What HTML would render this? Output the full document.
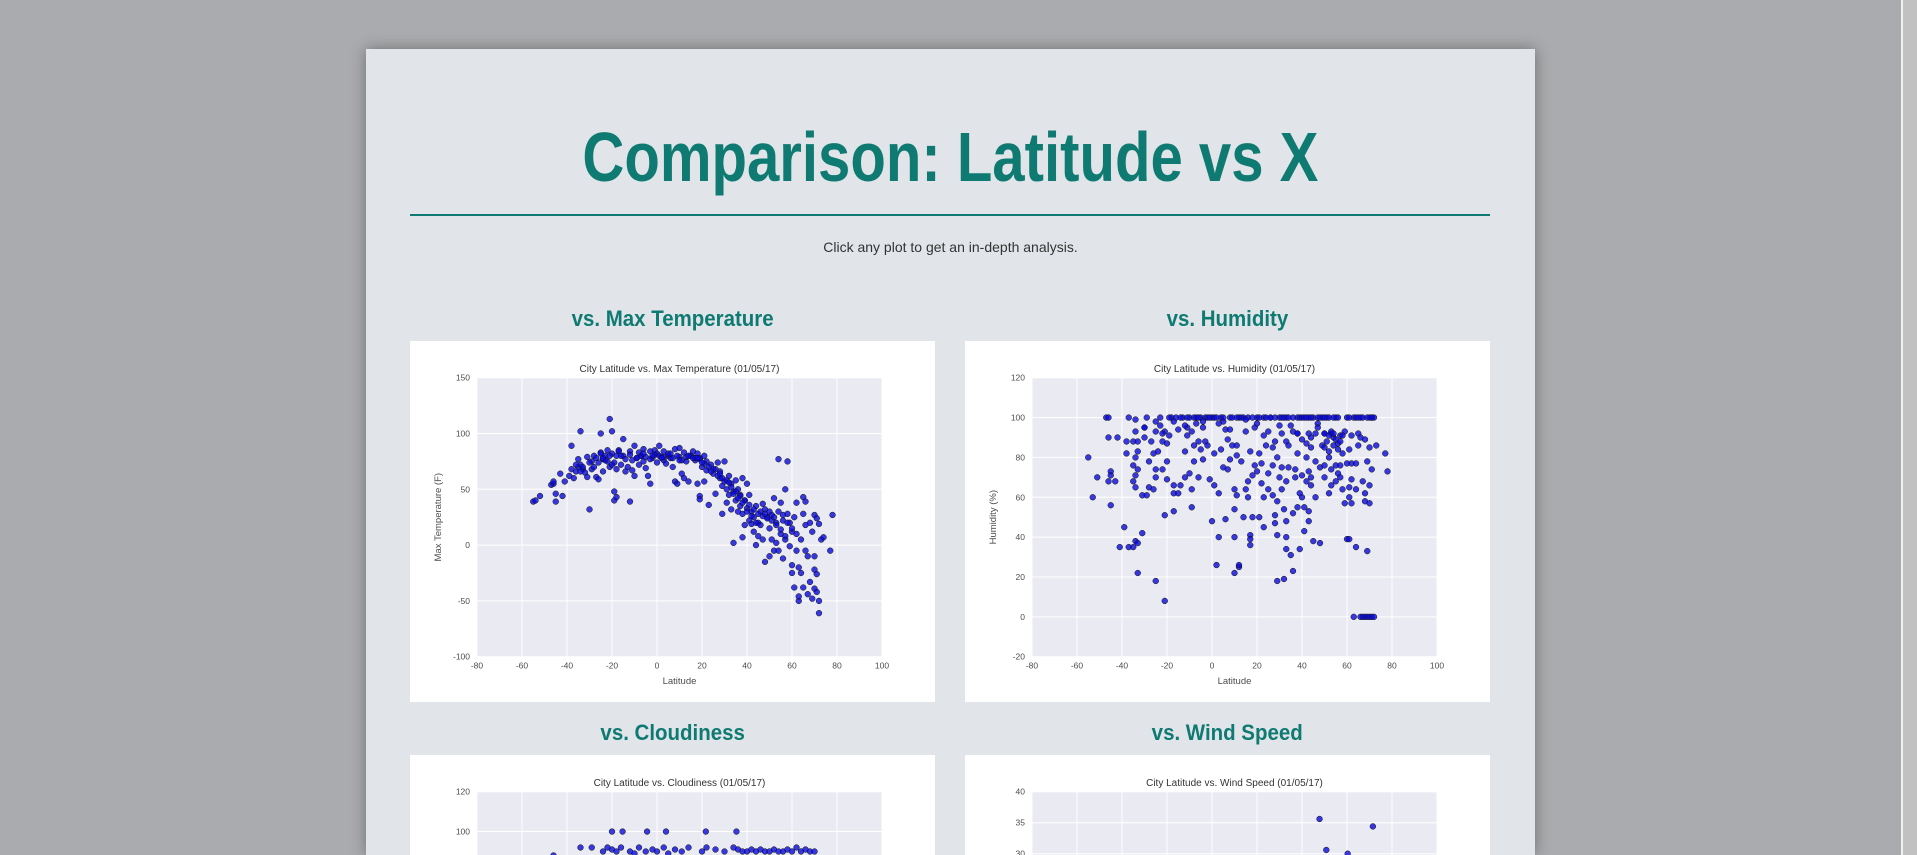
<!DOCTYPE html>
<html><head><meta charset="utf-8">
<style>
html,body{margin:0;padding:0;width:1917px;height:855px;overflow:hidden;}
body{background:#aaabae;position:relative;font-family:"Liberation Sans",sans-serif;}
#page{position:absolute;left:366px;top:49px;width:1169px;height:806px;background:#e1e4e9;box-shadow:0 0 14px rgba(0,0,0,0.35);overflow:hidden;}
.abs{position:absolute;}
#title{left:0;width:1169px;top:73px;text-align:center;font-size:70px;line-height:70px;font-weight:bold;color:#0e7a72;}
#title span{display:inline-block;transform:scaleX(0.83);}
#rule{left:44px;top:165px;width:1080px;height:2px;background:#0e7a72;}
#sub{left:0;width:1169px;top:191px;text-align:center;font-size:14px;line-height:14px;color:#333;}
.head{font-size:22px;line-height:22px;font-weight:bold;color:#0e7a72;text-align:center;width:525px;}
.head span{display:inline-block;transform:scaleX(0.93);}
.card{background:#fff;width:525px;height:361px;overflow:hidden;}
.card.short{height:100px;}
#scroll{position:absolute;left:1901px;top:0;width:16px;height:855px;background:#f1f1f1;}
#thumb{position:absolute;left:1903px;top:0;width:14px;height:855px;background:#c1c1c1;}
</style></head>
<body>
<div id="scroll"></div>
<div id="thumb"></div>
<div id="page">
  <div id="title" class="abs"><span>Comparison: Latitude vs X</span></div>
  <div id="rule" class="abs"></div>
  <div id="sub" class="abs">Click any plot to get an in-depth analysis.</div>
  <div class="abs head" style="left:44px;top:259px"><span>vs. Max Temperature</span></div>
  <div class="abs head" style="left:599px;top:259px"><span>vs. Humidity</span></div>
  <div class="abs head" style="left:44px;top:673px"><span>vs. Cloudiness</span></div>
  <div class="abs head" style="left:599px;top:673px"><span>vs. Wind Speed</span></div>
  <div class="abs card" style="left:44px;top:292px"><svg id="c1" width="525" height="361"></svg></div>
  <div class="abs card" style="left:599px;top:292px"><svg id="c2" width="525" height="361"></svg></div>
  <div class="abs card short" style="left:44px;top:706px"><svg id="c3" width="525" height="100"></svg></div>
  <div class="abs card short" style="left:599px;top:706px"><svg id="c4" width="525" height="100"></svg></div>
</div>
<script>
const xTicks=[-80,-60,-40,-20,0,20,40,60,80,100];
const tempTicks=[-100,-50,0,50,100,150];
const humTicks=[-20,0,20,40,60,80,100,120];
const cloudTicks=[-20,0,20,40,60,80,100,120];
const windTicks=[-5,0,5,10,15,20,25,30,35,40];

const tempLat=[-55,-54,-52,-47,-46,-46,-45,-45,-43,-42,-41,-39,-38,-38,-37,-36,-35,-35,-34,-34,-33,-32,-31,-31,-30,-29,-29,-28,-27,-26,-26,-25,-25,-24,-24,-23,-22,-22,-21,-21,-20,-20,-19,-19,-18,-18,-18,-17,-16,-15,-15,-14,-13,-12,-12,-11,-10,-10,-9,-8,-8,-7,-6,-6,-5,-4,-3,-3,-2,-1,0,0,1,2,3,3,4,5,6,7,8,8,9,10,10,11,12,12,13,14,15,16,17,18,18,19,19,19,20,21,21,22,22,23,24,25,26,26,27,28,28,29,29,30,30,31,31,32,32,33,33,34,34,35,35,36,36,37,37,38,38,38,39,39,40,40,41,41,42,42,43,43,44,44,45,45,46,47,47,48,48,49,50,50,50,51,51,52,52,53,53,54,54,54,55,55,56,56,57,57,58,58,59,59,60,60,60,61,61,62,62,62,63,63,63,64,64,65,65,65,66,66,66,67,67,68,68,69,69,70,70,70,70,71,71,71,72,72,72,73,74,77,78,
-36,-33,-30,-27,-25,-23,-21,-19,-17,-14,-12,-9,-7,-5,-3,-1,1,3,5,7,9,11,13,15,17,19,21,23,25,27,29,31,33,35,37,39,41,43,45,47,49,51,53,55,57,
-34,-28,-24,-20,-16,-11,-6,-2,2,6,10,14,16,18,20,24,28,32,34,36,38,40,42,44,46,48,52,56,58,60];
const tempVal=[39,40,44,54,55,57,46,39,64,44,57,62,68,89,60,66,77,70,102,72,68,65,79,61,32,75,68,80,61,74,59,100,83,77,66,80,75,85,113,70,102,82,48,40,43,80,68,85,72,95,80,66,70,39,84,67,89,62,78,83,72,80,86,75,69,62,84,55,78,85,82,74,89,79,76,84,73,80,78,70,86,57,55,87,79,64,83,60,75,57,80,84,76,82,55,78,44,41,70,80,57,75,67,36,72,64,68,46,74,60,66,53,28,57,75,50,38,62,45,55,32,48,2,40,58,30,50,45,35,60,7,28,40,18,55,33,22,45,19,30,25,12,35,0,8,20,30,37,5,-15,32,25,30,15,-10,27,5,42,-5,2,20,77,30,-5,38,10,-12,27,50,5,75,28,-1,20,-18,12,-25,-38,25,-5,10,38,-50,-46,-20,-25,5,43,28,-38,39,-5,18,-44,-10,-33,20,-48,12,-22,-39,27,-10,-26,-42,24,-50,-61,19,5,7,-5,27,
72,70,74,78,82,76,80,74,84,77,81,78,80,79,77,81,80,79,82,78,80,76,79,80,78,77,73,70,68,62,60,58,52,48,44,40,36,32,28,26,24,22,18,14,8,
66,70,78,72,80,76,82,80,78,82,76,80,78,78,74,66,64,56,46,42,38,30,26,20,18,28,25,22,20,15];

const humLat=[-55,-53,-51,-47,-46,-46,-46,-45,-45,-45,-43,-42,-41,-39,-38,-38,-37,-37,-35,-35,-35,-35,-34,-34,-34,-34,-34,-34,-33,-33,-33,-33,-33,-31,-31,-30,-30,-29,-29,-28,-28,-27,-26,-26,-25,-25,-25,-25,-25,-24,-23,-23,-22,-22,-21,-21,-21,-20,-20,-20,-19,-18,-17,-17,-17,-17,-16,-15,-15,-14,-13,-12,-12,-11,-11,-10,-10,-9,-9,-9,-8,-8,-7,-7,-6,-6,-5,-5,-4,-4,-3,-3,-2,-2,-1,0,0,1,1,2,3,3,4,4,5,5,6,6,7,7,8,8,9,10,10,10,10,11,11,11,12,12,12,13,14,14,15,15,16,16,17,17,17,17,18,18,19,19,20,20,21,21,22,22,23,23,23,23,24,25,25,26,27,27,27,28,28,28,29,29,29,29,30,30,31,31,31,32,32,33,33,33,33,33,33,34,34,35,35,36,36,36,37,37,38,38,38,38,39,39,39,40,40,40,41,41,42,42,42,43,43,43,43,43,44,44,44,45,45,46,46,46,47,48,48,49,49,50,50,50,50,51,51,52,52,52,53,53,53,54,54,55,55,55,56,56,57,57,57,58,58,59,59,60,60,61,61,61,61,62,62,62,62,63,63,64,64,64,64,65,65,66,66,66,67,67,68,68,68,68,69,69,69,70,70,70,70,70,71,71,71,72,72,73,77,78,
-19,-14,-11,-8,-6,-1,1,2,5,9,11,13,16,18,21,24,26,28,31,32,34,36,40,41,42,44,47,48,50,52,54,56,60,61,65,67,69,71,
-30,-22,-12,-4,3,8,15,20,25,30,38,44,47,50,52,53,54,55,56,57,58];
const humVal=[80,60,70,100,100,90,68,73,71,56,68,90,35,45,88,82,100,35,76,88,68,35,99,93,80,71,65,38,88,83,74,37,22,61,42,95,90,100,61,65,78,88,82,64,98,93,74,70,18,83,100,96,74,88,93,51,8,87,78,69,91,100,98,66,62,53,100,94,62,66,100,83,70,95,91,100,72,93,64,55,86,78,100,97,88,70,84,100,95,79,100,88,100,86,69,100,48,66,82,26,62,40,100,84,98,75,94,49,74,89,100,79,86,64,54,40,22,86,61,81,100,25,26,78,100,50,93,64,68,60,83,41,39,36,71,50,95,76,100,73,50,82,77,67,100,91,60,45,86,72,64,100,85,76,61,88,47,51,18,58,80,41,100,70,92,75,64,19,54,100,88,68,48,40,34,86,75,96,31,93,52,23,74,70,100,92,82,55,100,62,34,89,71,60,55,43,80,68,87,100,92,73,53,48,85,70,66,100,38,92,78,60,97,75,37,86,100,92,85,76,70,88,100,83,62,80,92,74,66,86,90,100,76,68,84,72,91,76,70,64,82,57,93,39,77,39,65,60,84,91,77,57,69,0,100,100,35,64,77,86,92,100,0,90,0,68,0,58,89,62,0,33,78,100,0,85,66,57,100,0,74,0,100,86,82,73,
100,100,100,100,100,100,100,100,100,100,100,100,100,100,100,100,100,100,100,100,100,100,100,100,100,100,100,100,100,100,100,100,100,100,100,100,100,100,
95,92,96,98,97,94,99,97,93,96,92,90,95,92,91,93,92,89,87,88,91];

const cloudLat=[-46,-34,-29,-20,-15.3,-4.4,4,21.7,35.3,-24,-22,-20,-18,-16,-12,-10,-8,-5,-2,0,3,5,8,11,14,20,22,26,30,34,36,38,40,42,44,46,48,50,52,54,56,58,60,62,64,66,68,70];
const cloudVal=[88,92,92,100,100,100,100,100,100,90,92,91,90,92,90,89,92,90,91,90,92,89,91,90,92,90,92,91,90,92,91,90,90,91,90,91,90,90,91,90,90,91,90,92,90,91,90,90];

const windLat=[47.8,71.5,50.8,60.3];
const windVal=[35.6,34.4,30.6,30];

const NS="http://www.w3.org/2000/svg";
function mk(tag,attrs,parent){const e=document.createElementNS(NS,tag);for(const k in attrs)e.setAttribute(k,attrs[k]);parent.appendChild(e);return e;}
function draw(id,title,ylabel,yTicks,ymin,ymax,lats,vals,pfx){
  const svg=document.getElementById(id);
  const L=67,T=36.7,W=405,H=279;
  const sx=v=>L+(v-(-80))/(100-(-80))*W;
  const sy=v=>T+(ymax-v)/(ymax-ymin)*H;
  const bg=mk('rect',{x:L,y:T,width:W,height:H,fill:'#eaeaf2'},svg);
  
  
  xTicks.forEach(t=>{
    const g=mk('line',{x1:sx(t),x2:sx(t),y1:T,y2:T+H,stroke:'#fff','stroke-width':1},svg);
    
    
    const tx=mk('text',{x:sx(t),y:T+H+12,'text-anchor':'middle','font-size':8.5,fill:'#4d4d4d','font-family':'Liberation Sans, sans-serif'},svg);
    tx.textContent=t;
    
    
  });
  yTicks.forEach(t=>{
    const g=mk('line',{x1:L,x2:L+W,y1:sy(t),y2:sy(t),stroke:'#fff','stroke-width':1},svg);
    
    
    const tx=mk('text',{x:L-7,y:sy(t)+3,'text-anchor':'end','font-size':8.5,fill:'#4d4d4d','font-family':'Liberation Sans, sans-serif'},svg);
    tx.textContent=t;
    
    
  });
  for(let i=0;i<lats.length;i++){
    const c=mk('circle',{cx:sx(lats[i]),cy:sy(vals[i]),r:2.9,fill:'rgba(10,10,220,0.8)',stroke:'#111','stroke-width':0.5},svg);
    
    
  }
  const tt=mk('text',{x:L+W/2,y:31,'text-anchor':'middle','font-size':10,fill:'#333','font-family':'Liberation Sans, sans-serif'},svg);
  tt.textContent=title;
  
  
  const xl=mk('text',{x:L+W/2,y:343,'text-anchor':'middle','font-size':9.5,fill:'#4d4d4d','font-family':'Liberation Sans, sans-serif'},svg);
  xl.textContent='Latitude';
  
  
  const yl=mk('text',{x:0,y:0,'text-anchor':'middle','font-size':9.5,fill:'#4d4d4d','font-family':'Liberation Sans, sans-serif',transform:'translate(31,'+(T+H/2)+') rotate(-90)'},svg);
  yl.textContent=ylabel;
  
  
}
draw('c1','City Latitude vs. Max Temperature (01/05/17)','Max Temperature (F)',tempTicks,-100,150,tempLat,tempVal,'temp');
draw('c2','City Latitude vs. Humidity (01/05/17)','Humidity (%)',humTicks,-20,120,humLat,humVal,'humidity');
draw('c3','City Latitude vs. Cloudiness (01/05/17)','Cloudiness (%)',cloudTicks,-20,120,cloudLat,cloudVal,'cloudiness');
draw('c4','City Latitude vs. Wind Speed (01/05/17)','Wind Speed (mph)',windTicks,-5,40,windLat,windVal,'wind');
</script>
</body></html>
